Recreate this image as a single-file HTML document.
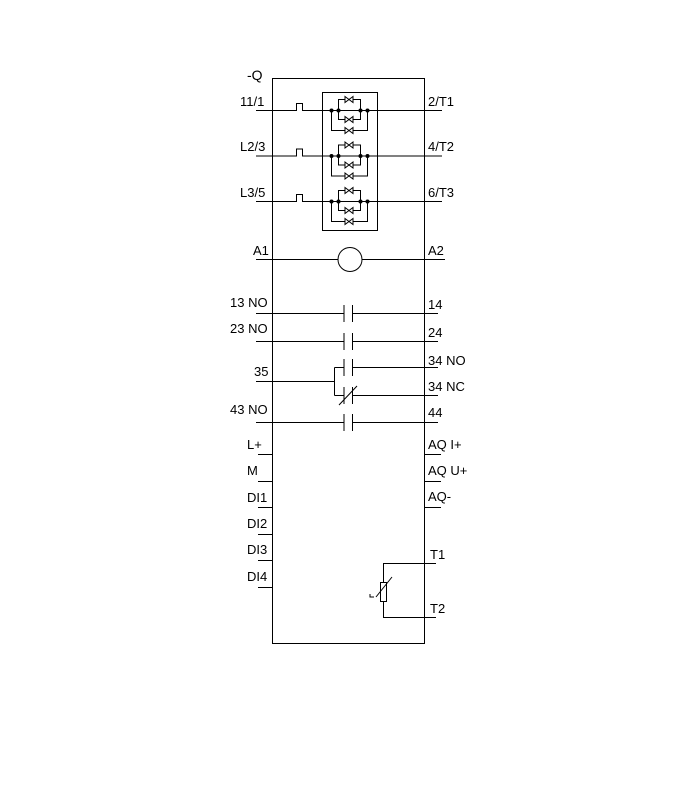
<!DOCTYPE html>
<html><head><meta charset="utf-8"><style>
html,body{margin:0;padding:0;background:#fff;}
svg{display:block;}
text{font-family:"Liberation Sans",Arial,sans-serif;font-size:13px;fill:#000;}
</style></head><body>
<svg width="700" height="800" viewBox="0 0 700 800" xmlns="http://www.w3.org/2000/svg">
<g stroke="#000" stroke-width="1" fill="none">
<rect x="272.5" y="78.5" width="152" height="565"/>
<rect x="322.5" y="92.5" width="55" height="138"/>
</g>
<text x="247" y="80" style="font-size:14px">-Q</text>

<g id="p1" stroke="#000" stroke-width="1" fill="none">
<path d="M256 110.5 H296.5 V103.5 H302.5 V110.5 H442"/>
<path d="M338.5 110.5 V99.5 H360.5 V110.5"/>
<path d="M338.5 110.5 V119.5 H360.5 V110.5"/>
<path d="M331.5 110.5 V130.5 H367.5 V110.5"/>
<g fill="#fff"><path d="M345 96.5 L353 102.5 V96.5 L345 102.5 Z"/><path d="M345 116.5 L353 122.5 V116.5 L345 122.5 Z"/><path d="M345 127.5 L353 133.5 V127.5 L345 133.5 Z"/></g>
<g fill="#000" stroke="none"><circle cx="331.5" cy="110.5" r="2"/><circle cx="338.5" cy="110.5" r="2"/><circle cx="360.5" cy="110.5" r="2"/><circle cx="367.5" cy="110.5" r="2"/></g>
</g>
<use href="#p1" transform="translate(0,45.5)"/>
<use href="#p1" transform="translate(0,91)"/>
<text x="240" y="106">11/1</text><text x="428" y="106">2/T1</text>
<text x="240" y="151">L2/3</text><text x="428" y="151">4/T2</text>
<text x="240" y="197">L3/5</text><text x="428" y="197">6/T3</text>

<g stroke="#000" stroke-width="1" fill="none">
<path d="M256 259.5 H338 M362 259.5 H445"/>
<circle cx="350" cy="259.5" r="12"/>
</g>
<text x="253" y="255">A1</text><text x="428" y="255">A2</text>

<g stroke="#000" stroke-width="1" fill="none">
<path d="M256 313.5 H344 M352.5 313.5 H438 M344 305 V322 M352.5 305 V322"/>
<path d="M256 341.5 H344 M352.5 341.5 H438 M344 333 V350 M352.5 333 V350"/>
<path d="M256 381.5 H334.5 M334.5 367.5 V395.5 M334.5 367.5 H344 M352.5 367.5 H438 M344 359 V376 M352.5 359 V376"/>
<path d="M334.5 395.5 H344 M352.5 395.5 H438 M344 387 V404 M352.5 387 V404 M339 405 L357 386"/>
<path d="M256 422.5 H344 M352.5 422.5 H438 M344 414 V431 M352.5 414 V431"/>
</g>
<text x="230" y="307">13 NO</text><text x="428" y="309">14</text>
<text x="230" y="333">23 NO</text><text x="428" y="337">24</text>
<text x="254" y="376">35</text><text x="428" y="365">34 NO</text>
<text x="428" y="391">34 NC</text>
<text x="230" y="414">43 NO</text><text x="428" y="417">44</text>

<g stroke="#000" stroke-width="1" fill="none">
<path d="M258 454.5 H272 M258 481.5 H272 M258 507.5 H272 M258 534.5 H272 M258 560.5 H272 M258 587.5 H272"/>
<path d="M424 454.5 H441 M424 481.5 H441 M424 507.5 H441"/>
<path d="M436 563.5 H383.5 V617.5 H436"/>
<rect x="380.5" y="582.5" width="6" height="19" fill="#fff"/>
<path d="M376 597 L392 577 M370 594 V597 H374"/>
</g>
<text x="247" y="449">L+</text><text x="247" y="475">M</text>
<text x="247" y="502">DI1</text><text x="247" y="528">DI2</text>
<text x="247" y="554">DI3</text><text x="247" y="581">DI4</text>
<text x="428" y="449">AQ I+</text><text x="428" y="475">AQ U+</text>
<text x="428" y="501">AQ-</text>
<text x="430" y="559">T1</text><text x="430" y="613">T2</text>
</svg>
</body></html>
